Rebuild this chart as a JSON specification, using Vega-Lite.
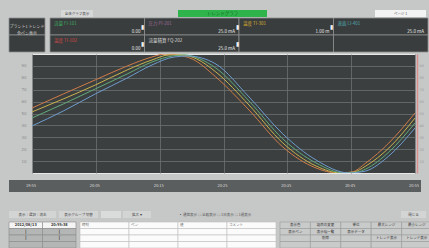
{
  "$schema": "https://vega.github.io/schema/vega-lite/v6.json",
  "padding": {"left": 8, "top": 10, "right": 0, "bottom": 0},
  "background": "#c6c7c7",
  "bounds": "full",
  "config": {
    "font": "DejaVu Sans",
    "view": {"stroke": null},
    "text": {"font": "Noto Sans CJK JP"}
  },
  "datasets": {
    "one": [{"k": 1}],
    "trend": [
      {"t": 0, "v": 54.6, "s": "A"}, {"t": 4.9, "v": 66.4, "s": "A"}, {"t": 9.9, "v": 78.2, "s": "A"}, {"t": 14.9, "v": 89.9, "s": "A"}, {"t": 18.8, "v": 97.5, "s": "A"}, {"t": 20.8, "v": 100, "s": "A"}, {"t": 22.7, "v": 99.2, "s": "A"}, {"t": 25.1, "v": 95.8, "s": "A"}, {"t": 28.8, "v": 80.7, "s": "A"}, {"t": 34, "v": 52.9, "s": "A"}, {"t": 39.3, "v": 21.8, "s": "A"}, {"t": 44.5, "v": 4.2, "s": "A"}, {"t": 47.8, "v": 0, "s": "A"}, {"t": 50.1, "v": 0.8, "s": "A"}, {"t": 52.3, "v": 8.4, "s": "A"}, {"t": 55.9, "v": 25.2, "s": "A"}, {"t": 60, "v": 50.4, "s": "A"},
      {"t": 0, "v": 51.3, "s": "B"}, {"t": 4.9, "v": 62.2, "s": "B"}, {"t": 9.9, "v": 73.9, "s": "B"}, {"t": 14.9, "v": 86.6, "s": "B"}, {"t": 18.8, "v": 95, "s": "B"}, {"t": 21.5, "v": 99.2, "s": "B"}, {"t": 23.5, "v": 99.2, "s": "B"}, {"t": 25.8, "v": 95.8, "s": "B"}, {"t": 28.8, "v": 84.9, "s": "B"}, {"t": 34, "v": 57.1, "s": "B"}, {"t": 39.3, "v": 25.2, "s": "B"}, {"t": 44.5, "v": 5.9, "s": "B"}, {"t": 48.4, "v": 0, "s": "B"}, {"t": 50.4, "v": 0.8, "s": "B"}, {"t": 52.3, "v": 5.9, "s": "B"}, {"t": 55.9, "v": 21, "s": "B"}, {"t": 60, "v": 46.2, "s": "B"},
      {"t": 0, "v": 46.2, "s": "C"}, {"t": 4.9, "v": 58, "s": "C"}, {"t": 9.9, "v": 70.6, "s": "C"}, {"t": 14.9, "v": 83.2, "s": "C"}, {"t": 18.8, "v": 93.3, "s": "C"}, {"t": 22, "v": 98.3, "s": "C"}, {"t": 24, "v": 99.2, "s": "C"}, {"t": 26.3, "v": 95.8, "s": "C"}, {"t": 28.8, "v": 88.2, "s": "C"}, {"t": 34, "v": 60.5, "s": "C"}, {"t": 39.3, "v": 28.6, "s": "C"}, {"t": 44.5, "v": 8.4, "s": "C"}, {"t": 49, "v": 0, "s": "C"}, {"t": 51, "v": 0.8, "s": "C"}, {"t": 52.3, "v": 3.4, "s": "C"}, {"t": 55.9, "v": 17.6, "s": "C"}, {"t": 60, "v": 42, "s": "C"},
      {"t": 0, "v": 39.5, "s": "D"}, {"t": 4.9, "v": 52.1, "s": "D"}, {"t": 9.9, "v": 66.4, "s": "D"}, {"t": 14.9, "v": 79.8, "s": "D"}, {"t": 18.8, "v": 90.8, "s": "D"}, {"t": 22.3, "v": 97.5, "s": "D"}, {"t": 24.6, "v": 98.3, "s": "D"}, {"t": 26.6, "v": 96.6, "s": "D"}, {"t": 28.8, "v": 91.6, "s": "D"}, {"t": 34, "v": 63.9, "s": "D"}, {"t": 39.3, "v": 32.8, "s": "D"}, {"t": 44.5, "v": 10.9, "s": "D"}, {"t": 49.7, "v": 0, "s": "D"}, {"t": 51.4, "v": 0.8, "s": "D"}, {"t": 52.3, "v": 1.7, "s": "D"}, {"t": 55.9, "v": 14.3, "s": "D"}, {"t": 60, "v": 37.8, "s": "D"}
    ],
    "xt": [
      {"t": 0, "lab": "19:55"}, {"t": 10, "lab": "20:05"}, {"t": 20, "lab": "20:15"}, {"t": 30, "lab": "20:25"}, {"t": 40, "lab": "20:35"}, {"t": 50, "lab": "20:45"}, {"t": 60, "lab": "20:55"}
    ],
    "left": [
      {"r": "1", "txt": "プラント1 トレンド\n全ペン表示"},
      {"r": "2", "txt": ""}
    ],
    "hdr": [
      {"col": "1", "row": "1", "pen": "流量 FI-101", "val": "0.00", "mk": ""},
      {"col": "2", "row": "1", "pen": "圧力 PI-201", "val": "25.0  mA", "mk": "▮"},
      {"col": "3", "row": "1", "pen": "温度 TI-301", "val": "1.00  m", "mk": "▮"},
      {"col": "4", "row": "1", "pen": "液面 LI-401", "val": "25.0  mA", "mk": "▮"},
      {"col": "1", "row": "2", "pen": "温度 TI-102", "val": "0.00", "mk": ""},
      {"col": "2", "row": "2", "pen": "流量積算 FQ-202", "val": "25.0  mA", "mk": "▮"},
      {"col": "3", "row": "2", "pen": "", "val": "", "mk": "▮"},
      {"col": "4", "row": "2", "pen": "", "val": "", "mk": ""}
    ],
    "date": [
      {"c": "1", "r": "1", "kind": "head", "txt": "2012/06/13"},
      {"c": "2", "r": "1", "kind": "head", "txt": "20:55:38"},
      {"c": "1", "r": "2", "kind": "body", "txt": "|"},
      {"c": "2", "r": "2", "kind": "body", "txt": "|"},
      {"c": "1", "r": "3", "kind": "body", "txt": "|"},
      {"c": "2", "r": "3", "kind": "body", "txt": "|"},
      {"c": "1", "r": "4", "kind": "body", "txt": ""},
      {"c": "2", "r": "4", "kind": "body", "txt": ""}
    ],
    "wtab": [
      {"c": "1", "r": "1", "txt": "時刻"}, {"c": "2", "r": "1", "txt": "ペン"}, {"c": "3", "r": "1", "txt": "値"}, {"c": "4", "r": "1", "txt": "コメント"},
      {"c": "1", "r": "2", "txt": ""}, {"c": "2", "r": "2", "txt": ""}, {"c": "3", "r": "2", "txt": ""}, {"c": "4", "r": "2", "txt": ""},
      {"c": "1", "r": "3", "txt": ""}, {"c": "2", "r": "3", "txt": ""}, {"c": "3", "r": "3", "txt": ""}, {"c": "4", "r": "3", "txt": ""},
      {"c": "1", "r": "4", "txt": ""}, {"c": "2", "r": "4", "txt": ""}, {"c": "3", "r": "4", "txt": ""}, {"c": "4", "r": "4", "txt": ""}
    ],
    "gtab": [
      {"c": "1", "r": "1", "txt": "表示色"}, {"c": "2", "r": "1", "txt": "項目の変更"}, {"c": "3", "r": "1", "txt": "単位"}, {"c": "4", "r": "1", "txt": "最大レンジ"}, {"c": "5", "r": "1", "txt": "最小レンジ"},
      {"c": "1", "r": "2", "txt": "表示ペン"}, {"c": "2", "r": "2", "txt": "表示幅一覧"}, {"c": "3", "r": "2", "txt": "表示データ"}, {"c": "4", "r": "2", "txt": ""}, {"c": "5", "r": "2", "txt": ""},
      {"c": "1", "r": "3", "txt": ""}, {"c": "2", "r": "3", "txt": "削除"}, {"c": "3", "r": "3", "txt": ""}, {"c": "4", "r": "3", "txt": "トレンド表示"}, {"c": "5", "r": "3", "txt": "トレンド表示"},
      {"c": "1", "r": "4", "txt": ""}, {"c": "2", "r": "4", "txt": ""}, {"c": "3", "r": "4", "txt": ""}, {"c": "4", "r": "4", "txt": ""}, {"c": "5", "r": "4", "txt": ""}
    ]
  },
  "resolve": {"scale": {"color": "independent", "fill": "independent"}},
  "spacing": 0,
  "vconcat": [
    {
      "spacing": 0,
      "hconcat": [
        {"width": 52, "height": 7, "data": {"name": "one"}, "mark": {"type": "text", "text": "", "fontSize": 1}},
        {"width": 32, "height": 7, "data": {"name": "one"}, "view": {"fill": "#d6d7d7"},
         "mark": {"type": "text", "text": "全体グラフ表示", "fontSize": 3.5, "color": "#444444"}},
        {"width": 85, "height": 7, "data": {"name": "one"}, "mark": {"type": "text", "text": "", "fontSize": 1}},
        {"width": 89, "height": 7, "data": {"name": "one"}, "view": {"fill": "#2eb44b"},
         "mark": {"type": "text", "text": "トレンドグラフ", "fontSize": 4.5, "color": "#17652a"}},
        {"width": 108, "height": 7, "data": {"name": "one"}, "mark": {"type": "text", "text": "", "fontSize": 1}},
        {"width": 51, "height": 7, "data": {"name": "one"}, "view": {"fill": "#f3f3f3"},
         "mark": {"type": "text", "text": "ページ 1", "fontSize": 3.5, "color": "#555555"}}
      ]
    },
    {
      "spacing": 0,
      "resolve": {"scale": {"color": "independent", "fill": "independent"}},
      "vconcat": [
        {
          "spacing": 3,
          "hconcat": [
            {
              "width": 36, "height": 34,
              "data": {"name": "left"},
              "layer": [
                {"mark": {"type": "rect", "fill": "#3a3d3d", "stroke": "#8e9090", "strokeWidth": 0.8},
                 "encoding": {"y": {"field": "r", "type": "ordinal", "axis": null, "scale": {"paddingInner": 0, "paddingOuter": 0}}}},
                {"transform": [{"filter": "datum.txt != ''"}],
                 "mark": {"type": "text", "color": "#d0d0d0", "fontSize": 4, "lineBreak": "\n", "lineHeight": 7, "baseline": "middle"},
                 "encoding": {"y": {"field": "r", "type": "ordinal", "axis": null}, "text": {"field": "txt"}}}
              ]
            },
            {
              "width": 378, "height": 34,
              "data": {"name": "hdr"},
              "layer": [
                {"mark": {"type": "rect", "fill": "#3a3d3d", "stroke": "#8e9090", "strokeWidth": 0.8},
                 "encoding": {
                   "x": {"field": "col", "type": "ordinal", "axis": null, "scale": {"paddingInner": 0, "paddingOuter": 0}},
                   "y": {"field": "row", "type": "ordinal", "axis": null, "scale": {"paddingInner": 0, "paddingOuter": 0}}}},
                {"transform": [{"filter": "datum.pen != ''"}],
                 "mark": {"type": "text", "align": "left", "baseline": "top", "dx": 4, "dy": 3, "fontSize": 4.5},
                 "encoding": {
                   "x": {"field": "col", "type": "ordinal", "bandPosition": 0, "axis": null},
                   "y": {"field": "row", "type": "ordinal", "bandPosition": 0, "axis": null},
                   "text": {"field": "pen"},
                   "color": {"field": "pen", "type": "nominal", "legend": null,
                     "scale": {"domain": ["流量 FI-101", "圧力 PI-201", "温度 TI-301", "液面 LI-401", "温度 TI-102", "流量積算 FQ-202"],
                               "range": ["#3aa860", "#9a6a9a", "#d8b030", "#50a8b0", "#d04848", "#d8d8d8"]}}}},
                {"transform": [{"filter": "datum.mk != ''"}],
                 "mark": {"type": "text", "align": "center", "baseline": "middle", "dx": -2, "fontSize": 6, "color": "#f0f0f0"},
                 "encoding": {
                   "x": {"field": "col", "type": "ordinal", "bandPosition": 0, "axis": null},
                   "y": {"field": "row", "type": "ordinal", "axis": null},
                   "text": {"field": "mk"}}},
                {"transform": [{"filter": "datum.val != ''"}],
                 "mark": {"type": "text", "align": "right", "baseline": "bottom", "dx": -4, "dy": -1, "fontSize": 4.5, "color": "#e8e8e8"},
                 "encoding": {
                   "x": {"field": "col", "type": "ordinal", "bandPosition": 1, "axis": null},
                   "y": {"field": "row", "type": "ordinal", "bandPosition": 1, "axis": null},
                   "text": {"field": "val"}}}
              ]
            }
          ]
        },
        {
          "spacing": 6,
          "resolve": {"scale": {"color": "independent", "fill": "independent"}},
          "vconcat": [
            {
              "spacing": 9,
              "hconcat": [
                {"width": 1, "height": 119, "data": {"name": "one"}, "mark": {"type": "text", "text": "", "fontSize": 1}},
                {
                  "width": 383, "height": 119,
                  "data": {"name": "trend"},
                  "view": {"fill": "#3b3f3f", "stroke": "#e8e8e8", "strokeWidth": 1},
                  "layer": [
                    {
                      "mark": {"type": "line", "interpolate": "monotone", "strokeWidth": 1, "clip": true},
                      "encoding": {
                        "x": {
                          "field": "t", "type": "quantitative",
                          "scale": {"domain": [0, 60], "nice": false, "zero": false},
                          "axis": {"title": null, "values": [0, 10, 20, 30, 40, 50, 60], "grid": true, "gridColor": "#6b7070", "gridWidth": 0.8,
                                   "ticks": false, "domain": false, "labels": false}
                        },
                        "y": {
                          "field": "v", "type": "quantitative",
                          "scale": {"domain": [0, 100], "nice": false},
                          "axis": {
                            "title": null, "values": [10, 20, 30, 40, 50, 60, 70, 80, 90],
                            "grid": true, "gridColor": "#6b7070", "gridWidth": 0.8,
                            "ticks": false, "domain": false,
                            "labelColor": "#8a8d8d", "labelFontSize": 4, "labelPadding": 6,
                            "minExtent": 12, "maxExtent": 12
                          }
                        },
                        "color": {
                          "field": "s", "type": "nominal", "legend": null,
                          "scale": {"domain": ["A", "B", "C", "D"], "range": ["#d07c48", "#c8b24e", "#62aa7c", "#6f9ccf"]}
                        }
                      }
                    },
                    {
                      "mark": {"type": "line", "strokeOpacity": 0},
                      "encoding": {
                        "x": {"field": "t", "type": "quantitative"},
                        "y": {
                          "field": "v", "type": "quantitative",
                          "axis": {
                            "title": null, "orient": "right", "values": [10, 20, 30, 40, 50, 60, 70, 80, 90],
                            "grid": false, "ticks": false, "domainColor": "#d89090", "domainWidth": 1.5, "offset": 2,
                            "labelColor": "#9a9d9d", "labelFontSize": 3.5, "labelPadding": 2
                          }
                        },
                        "detail": {"field": "s"}
                      }
                    }
                  ],
                  "resolve": {"axis": {"y": "independent"}}
                }
              ]
            },
            {
              "spacing": 19,
              "resolve": {"scale": {"color": "independent", "fill": "independent"}},
              "vconcat": [
                {
                  "width": 412, "height": 12,
                  "data": {"name": "xt"},
                  "view": {"fill": "#5b5e5e"},
                  "mark": {"type": "text", "fontSize": 4, "color": "#dcdcdc", "baseline": "middle"},
                  "encoding": {
                    "x": {"field": "t", "type": "quantitative", "scale": {"domain": [-3.447, 61.1], "nice": false, "zero": false}, "axis": null},
                    "text": {"field": "lab"}
                  }
                },
                {
                  "spacing": 3,
                  "resolve": {"scale": {"color": "independent", "fill": "independent"}},
                  "vconcat": [
                    {
                      "spacing": 0,
                      "hconcat": [
                        {"width": 47, "height": 7, "data": {"name": "one"}, "view": {"fill": "#d3d4d4"},
                         "mark": {"type": "text", "text": "表示｜選択｜消去", "fontSize": 3.5, "color": "#444444"}},
                        {"width": 3, "height": 7, "data": {"name": "one"}, "mark": {"type": "text", "text": "", "fontSize": 1}},
                        {"width": 39, "height": 7, "data": {"name": "one"}, "view": {"fill": "#d3d4d4"},
                         "mark": {"type": "text", "text": "表示グループ 切替", "fontSize": 3.5, "color": "#444444"}},
                        {"width": 3, "height": 7, "data": {"name": "one"}, "mark": {"type": "text", "text": "", "fontSize": 1}},
                        {"width": 20, "height": 7, "data": {"name": "one"}, "view": {"fill": "#dadbdb"},
                         "mark": {"type": "text", "text": "", "fontSize": 1}},
                        {"width": 2, "height": 7, "data": {"name": "one"}, "mark": {"type": "text", "text": "", "fontSize": 1}},
                        {"width": 28, "height": 7, "data": {"name": "one"}, "view": {"fill": "#d3d4d4"},
                         "mark": {"type": "text", "text": "拡大    ▾", "fontSize": 3.5, "color": "#444444"}},
                        {"width": 3, "height": 7, "data": {"name": "one"}, "mark": {"type": "text", "text": "", "fontSize": 1}},
                        {"width": 122, "height": 7, "data": {"name": "one"},
                         "mark": {"type": "text", "text": "▪ 通常表示  ○ 比較表示  ○ 1日表示  ○ 1週表示", "fontSize": 3.5, "color": "#555555"}},
                        {"width": 125, "height": 7, "data": {"name": "one"}, "mark": {"type": "text", "text": "", "fontSize": 1}},
                        {"width": 25, "height": 7, "data": {"name": "one"}, "view": {"fill": "#d3d4d4"},
                         "mark": {"type": "text", "text": "閉じる", "fontSize": 3.5, "color": "#444444"}}
                      ]
                    },
                    {
                      "spacing": 2,
                      "resolve": {"scale": {"color": "independent", "fill": "independent"}},
                      "hconcat": [
                        {
                          "width": 67, "height": 26,
                          "data": {"name": "date"},
                          "layer": [
                            {"mark": {"type": "rect", "stroke": "#8a8a8a", "strokeWidth": 0.6},
                             "encoding": {
                               "x": {"field": "c", "type": "ordinal", "axis": null, "scale": {"paddingInner": 0, "paddingOuter": 0}},
                               "y": {"field": "r", "type": "ordinal", "axis": null, "scale": {"paddingInner": 0, "paddingOuter": 0}},
                               "fill": {"field": "kind", "type": "nominal", "legend": null, "scale": {"domain": ["head", "body"], "range": ["#f4f4f4", "#b4b5b5"]}}}},
                            {"transform": [{"filter": "datum.txt != ''"}],
                             "mark": {"type": "text", "fontSize": 4, "baseline": "middle", "fontWeight": "bold"},
                             "encoding": {
                               "x": {"field": "c", "type": "ordinal", "axis": null},
                               "y": {"field": "r", "type": "ordinal", "axis": null},
                               "text": {"field": "txt"},
                               "color": {"field": "kind", "type": "nominal", "legend": null, "scale": {"domain": ["head", "body"], "range": ["#333333", "#111111"]}}}}
                          ],
                          "resolve": {"scale": {"color": "independent", "fill": "independent"}}
                        },
                        {
                          "width": 196, "height": 26,
                          "data": {"name": "wtab"},
                          "layer": [
                            {"mark": {"type": "rect", "fill": "#fbfbfb", "stroke": "#c0c0c0", "strokeWidth": 0.6},
                             "encoding": {
                               "x": {"field": "c", "type": "ordinal", "axis": null, "scale": {"paddingInner": 0, "paddingOuter": 0}},
                               "y": {"field": "r", "type": "ordinal", "axis": null, "scale": {"paddingInner": 0, "paddingOuter": 0}}}},
                            {"transform": [{"filter": "datum.txt != ''"}],
                             "mark": {"type": "text", "fontSize": 3.5, "baseline": "middle", "color": "#666666", "align": "left", "dx": 2},
                             "encoding": {
                               "x": {"field": "c", "type": "ordinal", "bandPosition": 0, "axis": null},
                               "y": {"field": "r", "type": "ordinal", "axis": null},
                               "text": {"field": "txt"}}}
                          ]
                        },
                        {
                          "width": 152, "height": 26,
                          "data": {"name": "gtab"},
                          "layer": [
                            {"mark": {"type": "rect", "fill": "#c9caca", "stroke": "#9a9a9a", "strokeWidth": 0.6},
                             "encoding": {
                               "x": {"field": "c", "type": "ordinal", "axis": null, "scale": {"paddingInner": 0, "paddingOuter": 0}},
                               "y": {"field": "r", "type": "ordinal", "axis": null, "scale": {"paddingInner": 0, "paddingOuter": 0}}}},
                            {"transform": [{"filter": "datum.txt != ''"}],
                             "mark": {"type": "text", "fontSize": 3.5, "baseline": "middle", "color": "#333333"},
                             "encoding": {
                               "x": {"field": "c", "type": "ordinal", "axis": null},
                               "y": {"field": "r", "type": "ordinal", "axis": null},
                               "text": {"field": "txt"}}}
                          ]
                        }
                      ]
                    }
                  ]
                }
              ]
            }
          ]
        }
      ]
    }
  ]
}
